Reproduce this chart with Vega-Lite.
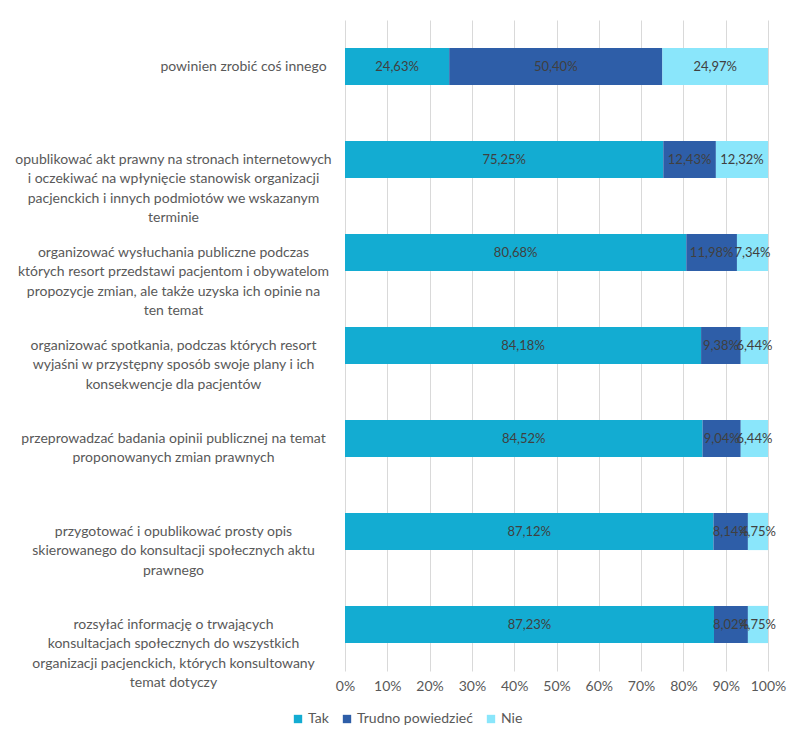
{
  "$schema": "https://vega.github.io/schema/vega-lite/v6.json",
  "width": 423,
  "height": 651,
  "autosize": "none",
  "padding": {"left": 345, "top": 20, "right": 40, "bottom": 75},
  "background": "white",
  "config": {
    "view": {"stroke": null},
    "font": "Lato",
    "locale": {"number": {"decimal": ",", "thousands": " ", "grouping": [3], "currency": ["", " zł"]}}
  },
  "data": {
    "values": [
      {"cat": "powinien zrobić coś innego", "answer": "Tak", "k": 1, "v": 0.2463},
      {"cat": "powinien zrobić coś innego", "answer": "Trudno powiedzieć", "k": 2, "v": 0.5040},
      {"cat": "powinien zrobić coś innego", "answer": "Nie", "k": 3, "v": 0.2497},
      {"cat": "opublikować akt prawny na stronach internetowych|i oczekiwać na wpłynięcie stanowisk organizacji|pacjenckich i innych podmiotów we wskazanym|terminie", "answer": "Tak", "k": 1, "v": 0.7525},
      {"cat": "opublikować akt prawny na stronach internetowych|i oczekiwać na wpłynięcie stanowisk organizacji|pacjenckich i innych podmiotów we wskazanym|terminie", "answer": "Trudno powiedzieć", "k": 2, "v": 0.1243},
      {"cat": "opublikować akt prawny na stronach internetowych|i oczekiwać na wpłynięcie stanowisk organizacji|pacjenckich i innych podmiotów we wskazanym|terminie", "answer": "Nie", "k": 3, "v": 0.1232},
      {"cat": "organizować wysłuchania publiczne podczas|których resort przedstawi pacjentom i obywatelom|propozycje zmian, ale także uzyska ich opinie na|ten temat", "answer": "Tak", "k": 1, "v": 0.8068},
      {"cat": "organizować wysłuchania publiczne podczas|których resort przedstawi pacjentom i obywatelom|propozycje zmian, ale także uzyska ich opinie na|ten temat", "answer": "Trudno powiedzieć", "k": 2, "v": 0.1198},
      {"cat": "organizować wysłuchania publiczne podczas|których resort przedstawi pacjentom i obywatelom|propozycje zmian, ale także uzyska ich opinie na|ten temat", "answer": "Nie", "k": 3, "v": 0.0734},
      {"cat": "organizować spotkania, podczas których resort|wyjaśni w przystępny sposób swoje plany i ich|konsekwencje dla pacjentów", "answer": "Tak", "k": 1, "v": 0.8418},
      {"cat": "organizować spotkania, podczas których resort|wyjaśni w przystępny sposób swoje plany i ich|konsekwencje dla pacjentów", "answer": "Trudno powiedzieć", "k": 2, "v": 0.0938},
      {"cat": "organizować spotkania, podczas których resort|wyjaśni w przystępny sposób swoje plany i ich|konsekwencje dla pacjentów", "answer": "Nie", "k": 3, "v": 0.0644},
      {"cat": "przeprowadzać badania opinii publicznej na temat|proponowanych zmian prawnych", "answer": "Tak", "k": 1, "v": 0.8452},
      {"cat": "przeprowadzać badania opinii publicznej na temat|proponowanych zmian prawnych", "answer": "Trudno powiedzieć", "k": 2, "v": 0.0904},
      {"cat": "przeprowadzać badania opinii publicznej na temat|proponowanych zmian prawnych", "answer": "Nie", "k": 3, "v": 0.0644},
      {"cat": "przygotować i opublikować prosty opis|skierowanego do konsultacji społecznych aktu|prawnego", "answer": "Tak", "k": 1, "v": 0.8712},
      {"cat": "przygotować i opublikować prosty opis|skierowanego do konsultacji społecznych aktu|prawnego", "answer": "Trudno powiedzieć", "k": 2, "v": 0.0814},
      {"cat": "przygotować i opublikować prosty opis|skierowanego do konsultacji społecznych aktu|prawnego", "answer": "Nie", "k": 3, "v": 0.0475},
      {"cat": "rozsyłać informację o trwających|konsultacjach społecznych do wszystkich|organizacji pacjenckich, których konsultowany|temat dotyczy", "answer": "Tak", "k": 1, "v": 0.8723},
      {"cat": "rozsyłać informację o trwających|konsultacjach społecznych do wszystkich|organizacji pacjenckich, których konsultowany|temat dotyczy", "answer": "Trudno powiedzieć", "k": 2, "v": 0.0802},
      {"cat": "rozsyłać informację o trwających|konsultacjach społecznych do wszystkich|organizacji pacjenckich, których konsultowany|temat dotyczy", "answer": "Nie", "k": 3, "v": 0.0475}
    ]
  },
  "transform": [
    {"stack": "v", "groupby": ["cat"], "sort": [{"field": "k", "order": "ascending"}], "offset": "normalize", "as": ["v0", "v1"]}
  ],
  "encoding": {
    "y": {
      "field": "cat",
      "type": "nominal",
      "sort": null,
      "scale": {"paddingInner": 0.6, "paddingOuter": 0.3},
      "axis": {
        "title": null,
        "ticks": false,
        "domain": false,
        "labelAlign": "center",
        "labelBaseline": "middle",
        "labelPadding": {"condition": {"test": "datum.value == 'powinien zrobić coś innego'", "value": 102}, "value": 172},
        "labelFontSize": 14,
        "labelLineHeight": 19.5,
        "labelLimit": 400,
        "labelColor": "#595959",
        "labelExpr": "split(datum.label, '|')"
      }
    }
  },
  "layer": [
    {
      "mark": {"type": "bar"},
      "encoding": {
        "x": {
          "field": "v0",
          "type": "quantitative",
          "scale": {"domain": [0, 1], "nice": false},
          "axis": {
            "title": null,
            "format": "%",
            "values": [0, 0.1, 0.2, 0.3, 0.4, 0.5, 0.6, 0.7, 0.8, 0.9, 1],
            "labelOverlap": false,
            "labelFlush": false,
            "domain": false,
            "ticks": false,
            "grid": true,
            "gridColor": "#d9d9d9",
            "labelFontSize": 14,
            "labelColor": "#595959",
            "labelPadding": 8
          }
        },
        "x2": {"field": "v1"},
        "color": {
          "field": "answer",
          "type": "nominal",
          "scale": {"domain": ["Tak", "Trudno powiedzieć", "Nie"], "range": ["#13acd2", "#2e5ea8", "#8ae6fb"]},
          "legend": {
            "title": null,
            "orient": "none",
            "legendX": -54,
            "legendY": 692,
            "direction": "horizontal",
            "symbolType": "square",
            "symbolSize": 70,
            "symbolStrokeWidth": 0,
            "labelFontSize": 14,
            "labelColor": "#595959",
            "columnPadding": 11,
            "labelOffset": 3
          }
        }
      }
    },
    {
      "transform": [
        {"fold": ["v0", "v1"], "as": ["edge", "pos"]}
      ],
      "mark": {"type": "text", "fontSize": 13, "color": "#404040", "baseline": "middle", "align": "center"},
      "encoding": {
        "x": {
          "aggregate": "mean",
          "field": "pos",
          "type": "quantitative",
          "axis": {
            "title": null,
            "format": "%",
            "values": [0, 0.1, 0.2, 0.3, 0.4, 0.5, 0.6, 0.7, 0.8, 0.9, 1],
            "labelOverlap": false,
            "labelFlush": false,
            "domain": false,
            "ticks": false,
            "grid": true,
            "gridColor": "#d9d9d9",
            "labelFontSize": 14,
            "labelColor": "#595959",
            "labelPadding": 8
          }
        },
        "detail": {"field": "answer", "type": "nominal"},
        "text": {"aggregate": "max", "field": "v", "type": "quantitative", "format": ".2%"}
      }
    }
  ]
}
